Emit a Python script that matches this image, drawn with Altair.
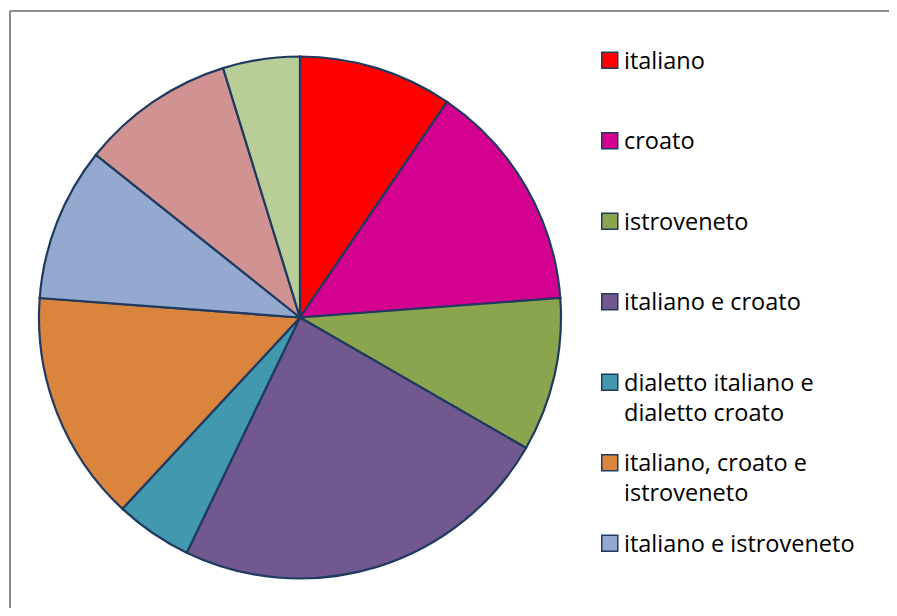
import altair as alt
import pandas as pd

categories = [
    "italiano",
    "croato",
    "istroveneto",
    "italiano e croato",
    "dialetto italiano e dialetto croato",
    "italiano, croato e istroveneto",
    "italiano e istroveneto",
    "croato e istroveneto",
    "altro",
]
values = [2, 3, 2, 5, 1, 3, 2, 2, 1]
colors = ["#FF0000", "#D4008F", "#8BA54F", "#71588F", "#4198AF",
          "#DB843D", "#93A9CF", "#D09392", "#B9CD96"]
legend_shown = categories[:7]
wrapped = {
    "dialetto italiano e dialetto croato": ["dialetto italiano e", "dialetto croato"],
    "italiano, croato e istroveneto": ["italiano, croato e", "istroveneto"],
}

df = pd.DataFrame({"lingua": categories, "valore": values, "idx": list(range(len(categories)))})

expr = "datum.label"
for k, v in wrapped.items():
    expr = f"datum.label == '{k}' ? ['{v[0]}', '{v[1]}'] : " + expr

W, H = 881, 600

pie = alt.Chart(df).mark_arc(
    x=292, y=309.5, outerRadius=261, stroke="#1F3A60", strokeWidth=2.2
).encode(
    theta=alt.Theta("valore:Q", stack=True),
    order=alt.Order("idx:Q"),
    color=alt.Color(
        "lingua:N",
        sort=categories,
        scale=alt.Scale(domain=categories, range=colors),
        legend=alt.Legend(
            title=None,
            orient="none",
            legendX=590,
            legendY=49,
            values=legend_shown,
            symbolType="M-1,-2.06H1V-0.06H-1Z",
            symbolSize=256,
            symbolStrokeColor="#1F3A60",
            symbolStrokeWidth=1.5,
            symbolOpacity=1,
            labelFont="Open Sans",
            labelFontSize=23.5,
            labelColor="#000000",
            labelBaseline="alphabetic",
            labelOffset=2.5,
            labelLimit=400,
            labelExpr=expr,
            gridAlign="all",
            rowPadding=25.5,
            padding=0,
        ),
    ),
)

frame_left = alt.Chart(df).mark_rule(color="#8C8C8C", strokeWidth=2).encode(
    x=alt.value(2), y=alt.value(3), y2=alt.value(H)
)
frame_top = alt.Chart(df).mark_rule(color="#8C8C8C", strokeWidth=2).encode(
    x=alt.value(2), x2=alt.value(W), y=alt.value(3)
)

chart = alt.layer(frame_left, frame_top, pie).properties(
    width=W, height=H, padding=0, autosize=alt.AutoSizeParams(type="none"),
    background="white",
).configure(
    view=alt.ViewConfig(stroke="transparent"),
    style={"guide-label": {"lineHeight": 30}},
)

chart.save("out.html", embed_options={"renderer": "svg", "actions": False})
